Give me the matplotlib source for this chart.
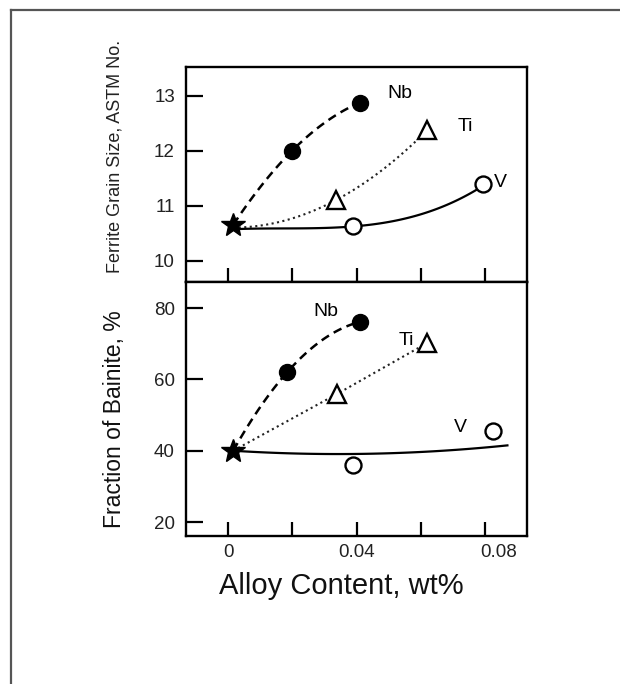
import numpy as np
import matplotlib
matplotlib.use("Agg")
import matplotlib.pyplot as plt
from matplotlib.lines import Line2D
import matplotlib.transforms as mtransforms

plt.rcParams['font.family'] = ['Liberation Sans', 'DejaVu Sans']

# ---------------- data ----------------
base_x = 0.0016
# top panel: ferrite grain size (ASTM No.)
top_base_y = 10.65
top_nb_x = [0.020, 0.041]
top_nb_y = [12.0, 12.87]
top_ti_x = [0.0336, 0.062]
top_ti_y = [11.1, 12.37]
top_v_x = [0.0388, 0.0794]
top_v_y = [10.63, 11.39]
top_v_curve_x = [0.0016, 0.020, 0.0388, 0.0794]
top_v_curve_y = [10.57, 10.585, 10.62, 11.36]

# bottom panel: fraction of bainite (%)
bot_base_y = 40.0
bot_nb_x = [0.0185, 0.041]
bot_nb_y = [62.1, 76.1]
bot_ti_x = [0.0339, 0.062]
bot_ti_y = [55.9, 70.2]
bot_v_x = [0.0388, 0.0826]
bot_v_y = [36.0, 45.6]
bot_v_curve_x = [0.0016, 0.040, 0.087]
bot_v_curve_y = [40.0, 39.1, 41.5]

x_ticks = [0, 0.02, 0.04, 0.06, 0.08]
x_ticklabels = ['0', '', '0.04', '', '0.08']
top_yticks = [10, 11, 12, 13]
bot_yticks = [20, 40, 60, 80]

# ---------------- figure ----------------
fig = plt.figure(figsize=(6.2, 6.84), dpi=100)
L, W = 0.300, 0.550
ax1 = fig.add_axes([L, 0.5877, W, 0.902 - 0.5877])
ax2 = fig.add_axes([L, 0.2164, W, 0.5877 - 0.2164])

xlim = (-0.0131, 0.0931)


def poly_curve(xs, ys, x0, x1, deg=2):
    c = np.polyfit(xs, ys, deg)
    xx = np.linspace(x0, x1, 120)
    return xx, np.polyval(c, xx)


dash = (3.5, 2.2)
ms_c = 11.5
ms_t = 12.5
ms_s = 18
lbl_fs = 14

# top
xx, yy = poly_curve([base_x] + top_nb_x, [top_base_y] + top_nb_y, base_x, top_nb_x[-1])
ax1.plot(xx, yy, color='black', lw=1.8, dashes=dash)
xx, yy = poly_curve([base_x] + top_ti_x, [top_base_y - 0.05] + top_ti_y, base_x, top_ti_x[-1])
ax1.plot(xx, yy, color='#222222', lw=1.5, ls=':')
xx, yy = poly_curve(top_v_curve_x, top_v_curve_y, top_v_curve_x[0], top_v_curve_x[-1], deg=3)
ax1.plot(xx, yy, color='black', lw=1.6, ls='-')
ax1.plot(top_nb_x, top_nb_y, 'o', color='black', ms=ms_c)
ax1.plot(top_ti_x, top_ti_y, '^', mfc='white', mec='black', mew=1.7, ms=ms_t)
ax1.plot(top_v_x, top_v_y, 'o', mfc='white', mec='black', mew=1.7, ms=ms_c)
ax1.plot([base_x], [top_base_y], '*', color='black', ms=ms_s)
ax1.text(0.0495, 13.04, 'Nb', fontsize=lbl_fs, ha='left', va='center')
ax1.text(0.0715, 12.44, 'Ti', fontsize=lbl_fs, ha='left', va='center')
ax1.text(0.0828, 11.42, 'V', fontsize=lbl_fs, ha='left', va='center')
ax1.set_ylim(9.61, 13.52)
ax1.set_yticks(top_yticks)

# bottom
xx, yy = poly_curve([base_x] + bot_nb_x, [bot_base_y] + bot_nb_y, base_x, bot_nb_x[-1])
ax2.plot(xx, yy, color='black', lw=1.8, dashes=dash)
ax2.plot([base_x] + bot_ti_x, [bot_base_y] + bot_ti_y, color='#222222', lw=1.5, ls=':')
xx, yy = poly_curve(bot_v_curve_x, bot_v_curve_y, bot_v_curve_x[0], bot_v_curve_x[-1])
ax2.plot(xx, yy, color='black', lw=1.6, ls='-')
ax2.plot(bot_nb_x, bot_nb_y, 'o', color='black', ms=ms_c)
ax2.plot(bot_ti_x, bot_ti_y, '^', mfc='white', mec='black', mew=1.7, ms=ms_t)
ax2.plot(bot_v_x, bot_v_y, 'o', mfc='white', mec='black', mew=1.7, ms=ms_c)
ax2.plot([base_x], [bot_base_y], '*', color='black', ms=ms_s)
ax2.text(0.0305, 78.9, 'Nb', fontsize=lbl_fs, ha='center', va='center')
ax2.text(0.0555, 71.0, 'Ti', fontsize=lbl_fs, ha='center', va='center')
ax2.text(0.0724, 46.6, 'V', fontsize=lbl_fs, ha='center', va='center')
ax2.set_ylim(16.1, 87.3)
ax2.set_yticks(bot_yticks)

for ax in (ax1, ax2):
    ax.set_xlim(*xlim)
    ax.set_xticks(x_ticks)
    for s in ax.spines.values():
        s.set_linewidth(1.7)
    ax.tick_params(axis='y', direction='in', length=12, width=1.6, pad=8,
                   labelsize=13.5, left=True, right=False, labelcolor='#222222')
    ax.tick_params(axis='x', direction='in', length=10, width=1.6, pad=6,
                   labelsize=13.5, top=False, bottom=True, labelcolor='#222222')

ax1.set_xticklabels([])
ax2.set_xticklabels(x_ticklabels)
# last label sits slightly right of its tick in the reference
shift = mtransforms.ScaledTranslation(0.14, 0, fig.dpi_scale_trans)
lab = ax2.get_xticklabels()[4]
lab.set_transform(lab.get_transform() + shift)

fig.text(0.185, 0.772, 'Ferrite Grain Size, ASTM No.', rotation=90,
         ha='center', va='center', fontsize=13, color='#222222')
fig.text(0.185, 0.387, 'Fraction of Bainite, %', rotation=90,
         ha='center', va='center', fontsize=16.5, color='#111111')
fig.text(0.55, 0.143, 'Alloy Content, wt%', ha='center', va='center',
         fontsize=21, color='#111111')

# outer frame (top and left edges)
fy = 1 - 9.5 / 684
fx = 10.5 / 620
fig.add_artist(Line2D([fx, 1.0], [fy, fy], transform=fig.transFigure,
                      color='#555555', lw=1.6))
fig.add_artist(Line2D([fx, fx], [0, fy], transform=fig.transFigure,
                      color='#555555', lw=1.6))

fig.savefig('out.png', dpi=100)
